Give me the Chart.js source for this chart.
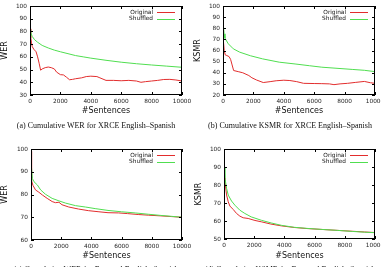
<!DOCTYPE html>
<html>
<head>
<meta charset="utf-8">
<script src="https://cdn.jsdelivr.net/npm/chart.js@4.4.0/dist/chart.umd.min.js"></script>
<style>
  body { margin: 0; background: #fff; width: 381px; height: 267px; overflow: hidden; position: relative; }
  canvas { position: absolute; }
  .pie { position: absolute; width: 200px; text-align: center; font-family: "Liberation Serif", serif; font-size: 8px; line-height: 9px; white-space: nowrap; color: #111; transform: translateZ(0); }
</style>
</head>
<body>
<canvas id="grafico-a" width="200" height="120" style="left:0px;top:0px;width:200px;height:120px"></canvas>
<canvas id="grafico-b" width="191" height="120" style="left:190px;top:0px;width:191px;height:120px"></canvas>
<canvas id="grafico-c" width="200" height="132" style="left:0px;top:133px;width:200px;height:132px"></canvas>
<canvas id="grafico-d" width="191" height="132" style="left:190px;top:133px;width:191px;height:132px"></canvas>
<div class="pie" style="left:-4px;top:121px">(a) Cumulative WER for XRCE English–Spanish</div>
<div class="pie" style="left:190px;top:121px">(b) Cumulative KSMR for XRCE English–Spanish</div>
<div class="pie" style="left:-4px;top:265px">(c) Cumulative WER for Europarl English–Spanish</div>
<div class="pie" style="left:190px;top:265px">(d) Cumulative KSMR for Europarl English–Spanish</div>
<script>
// Datos (x = numero de frases)
const xOriginalA = [0, 50, 100, 150, 250, 400, 500, 600, 700, 800, 1000, 1200, 1400, 1600, 1750, 2000, 2200, 2400, 2600, 2800, 3000, 3400, 3700, 4000, 4400, 4600, 5000, 5500, 6000, 6500, 7000, 7300, 7600, 8000, 8400, 8800, 9200, 9600, 10000];
const yOriginalA = [82, 75, 71, 68, 66, 64, 60, 55, 49.5, 50.5, 51.5, 52, 51.5, 50.5, 48, 46, 45.8, 44, 42, 42.3, 42.8, 43.5, 44.5, 44.8, 44.5, 43.5, 41.5, 41.5, 41.2, 41.5, 41, 40, 40.5, 41, 41.5, 42.2, 42.3, 41.8, 41];
const xShuffledA = [0, 30, 80, 150, 300, 500, 800, 1200, 1600, 2000, 2500, 3000, 3500, 4000, 5000, 6000, 7000, 8000, 9000, 10000];
const yShuffledA = [88, 82, 78, 76, 73.5, 71.5, 69, 67, 65.3, 64, 62.5, 61, 60, 59, 57.3, 55.8, 54.6, 53.6, 52.7, 51.8];

const xOriginalB = [0, 30, 80, 150, 250, 400, 500, 600, 700, 1000, 1300, 1700, 1900, 2200, 2650, 3100, 3500, 4000, 4400, 4850, 5300, 6000, 6500, 7000, 7300, 7700, 8200, 8700, 9300, 9700, 10000];
const yOriginalB = [80, 68, 60, 56, 55.5, 54.5, 52, 47, 42, 41, 40, 37.5, 35.5, 33.5, 31.2, 32, 32.8, 33.3, 33, 32, 30.5, 30.3, 30.2, 30, 29.3, 30, 30.5, 31.3, 32.2, 31, 30.5];
const xShuffledB = [0, 30, 70, 130, 350, 680, 1100, 1800, 2600, 3700, 4800, 5700, 6500, 7500, 8500, 9300, 10000];
const yShuffledB = [90, 82, 75, 71, 66, 61.5, 58.5, 55.3, 52.5, 49.5, 47.8, 46.3, 45, 44, 43, 42.2, 41];

const xOriginalC = [0, 40, 130, 300, 520, 750, 1070, 1400, 1620, 1850, 2050, 2500, 3150, 3800, 4500, 5100, 5800, 6400, 7100, 7800, 8600, 9300, 10000];
const yOriginalC = [99, 86, 84, 82, 81, 79.8, 78.3, 76.9, 76.4, 76.6, 75.5, 74.5, 73.6, 72.9, 72.4, 72, 71.9, 71.6, 71.2, 70.9, 70.6, 70.3, 70];
const xShuffledC = [0, 20, 90, 200, 420, 640, 960, 1400, 1850, 2300, 2950, 3600, 4250, 5100, 6000, 6900, 7800, 8600, 9300, 10000];
const yShuffledC = [100, 93, 87, 85.6, 84.2, 82, 80.1, 78.3, 77.2, 76.2, 75.1, 74.5, 73.8, 73, 72.4, 71.9, 71.3, 70.8, 70.4, 70];

const xOriginalD = [0, 60, 170, 280, 390, 610, 830, 1050, 1270, 1600, 2050, 2500, 3100, 3800, 4650, 5500, 6500, 7500, 8500, 9300, 10000];
const yOriginalD = [84, 82, 74.5, 70.7, 68.3, 66.4, 64.2, 62.7, 61.8, 61.4, 60.3, 59.5, 58.3, 57.3, 56.4, 55.8, 55.3, 54.8, 54.3, 53.9, 53.6];
const xShuffledD = [0, 60, 170, 280, 500, 720, 1050, 1380, 1800, 2475, 3130, 3800, 4650, 5500, 6500, 7500, 8500, 9300, 10000];
const yShuffledD = [90, 84, 78.2, 74.4, 71.1, 68.8, 66, 64.2, 62.3, 60.4, 58.9, 57.6, 56.5, 55.9, 55.3, 54.8, 54.2, 53.8, 53.5];

const rojo = 'rgb(226, 45, 45)';
const verde = 'rgb(80, 222, 80)';
const fuente = 'DejaVu Sans';

function aPuntos(xs, ys) {
    return xs.map((x, i) => ({ x: x, y: ys[i] }));
}

// Marco con marcas hacia dentro y leyenda estilo gnuplot
const marcoPlugin = {
    id: 'marco',
    afterDatasetsDraw(chart) {
        const { ctx, chartArea: a, scales: { x, y } } = chart;
        ctx.save();
        ctx.strokeStyle = '#000';
        ctx.lineWidth = 1;
        ctx.strokeRect(Math.round(a.left) + 0.5, Math.round(a.top) + 0.5, Math.round(a.width) - 1, Math.round(a.height) - 1);
        ctx.beginPath();
        x.ticks.forEach(t => {
            const px = Math.round(x.getPixelForValue(t.value)) + 0.5;
            ctx.moveTo(px, a.bottom); ctx.lineTo(px, a.bottom - 3);
            ctx.moveTo(px, a.top); ctx.lineTo(px, a.top + 3);
        });
        y.ticks.forEach(t => {
            const py = Math.round(y.getPixelForValue(t.value)) + 0.5;
            ctx.moveTo(a.left, py); ctx.lineTo(a.left + 3, py);
            ctx.moveTo(a.right, py); ctx.lineTo(a.right - 3, py);
        });
        ctx.stroke();

        // leyenda
        ctx.font = '5.8px "' + fuente + '"';
        ctx.textAlign = 'right';
        ctx.textBaseline = 'middle';
        chart.data.datasets.forEach((ds, i) => {
            const py = a.top + 6 + i * 6.8;
            ctx.fillStyle = '#111';
            ctx.fillText(ds.label, a.right - 29, py);
            ctx.strokeStyle = ds.borderColor;
            ctx.beginPath();
            ctx.moveTo(a.right - 25, Math.round(py) + 0.5);
            ctx.lineTo(a.right - 7, Math.round(py) + 0.5);
            ctx.stroke();
        });
        ctx.restore();
    }
};

function crearGrafico(id, datos, conf) {
    const ctx = document.getElementById(id).getContext('2d');
    return new Chart(ctx, {
        type: 'line',
        data: {
            datasets: [
                { label: 'Original', data: aPuntos(datos[0], datos[1]), borderColor: rojo, borderWidth: 1, pointRadius: 0, tension: 0, order: 1 },
                { label: 'Shuffled', data: aPuntos(datos[2], datos[3]), borderColor: verde, borderWidth: 1, pointRadius: 0, tension: 0, order: 0 }
            ]
        },
        options: {
            responsive: false,
            animation: false,
            layout: { padding: conf.padding },
            plugins: { legend: { display: false }, tooltip: { enabled: false } },
            scales: {
                x: {
                    type: 'linear', min: 0, max: 10000,
                    ticks: { stepSize: 2000, padding: 3, color: '#222', font: { family: fuente, size: 5.8 }, maxRotation: 0, callback: v => String(v) },
                    grid: { display: false, drawTicks: false },
                    border: { display: false },
                    title: { display: true, text: '#Sentences', color: '#111', font: { family: fuente, size: 8 }, padding: { top: 0, bottom: 4 } },
                    afterFit(s) { s.height = conf.altoX; s.paddingLeft = 0; s.paddingRight = 0; }
                },
                y: {
                    min: conf.min, max: 100,
                    ticks: { stepSize: 10, padding: 3, color: '#222', font: { family: fuente, size: 5.8 }, callback: v => String(v) },
                    grid: { display: false, drawTicks: false },
                    border: { display: false },
                    title: { display: true, text: conf.titulo, color: '#111', font: { family: fuente, size: 8 }, padding: { top: conf.padTitulo, bottom: 0 } },
                    afterFit(s) { s.width = conf.anchoY; s.paddingTop = 0; s.paddingBottom = 0; }
                }
            }
        },
        plugins: [marcoPlugin]
    });
}

crearGrafico('grafico-a', [xOriginalA, yOriginalA, xShuffledA, yShuffledA],
    { titulo: 'WER', min: 30, padding: { left: 0, top: 6, right: 18, bottom: 0 }, altoX: 25, anchoY: 30, padTitulo: 0 });
crearGrafico('grafico-b', [xOriginalB, yOriginalB, xShuffledB, yShuffledB],
    { titulo: 'KSMR', min: 20, padding: { left: 3, top: 6, right: 6, bottom: 0 }, altoX: 25, anchoY: 30, padTitulo: 0 });
crearGrafico('grafico-c', [xOriginalC, yOriginalC, xShuffledC, yShuffledC],
    { titulo: 'WER', min: 60, padding: { left: 1, top: 16, right: 18, bottom: 0 }, altoX: 25, anchoY: 30, padTitulo: -1 });
crearGrafico('grafico-d', [xOriginalD, yOriginalD, xShuffledD, yShuffledD],
    { titulo: 'KSMR', min: 50, padding: { left: 4, top: 16, right: 6, bottom: 0 }, altoX: 26, anchoY: 30, padTitulo: 0 });
</script>
</body>
</html>
